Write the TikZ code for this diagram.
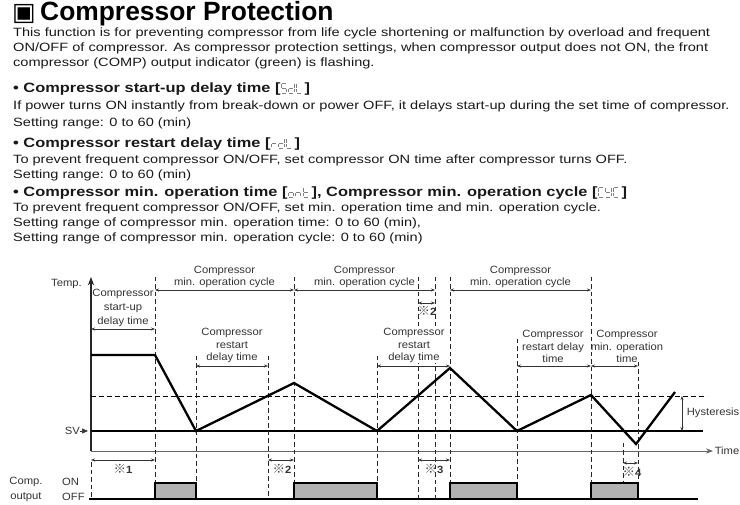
\documentclass[tikz,border=0pt]{standalone}
\usepackage{fontspec}
\setmainfont{Liberation Sans}
\newfontfamily\bodyfont[FakeStretch=1.215]{Liberation Sans}
\newfontfamily\labelfont[FakeStretch=1.07]{Liberation Sans}
\newfontfamily\symfont{DejaVu Sans}
\newfontfamily\cjkfont{Noto Sans CJK JP}
\usetikzlibrary{arrows.meta,positioning}

% seven segment glyphs for the parameter codes
\newcommand{\lcdA}{\draw (0.6,9.5)--(4.6,9.5);}
\newcommand{\lcdB}{\draw (5.2,8.9)--(5.2,5.3);}
\newcommand{\lcdC}{\draw (5.2,4.2)--(5.2,0.6);}
\newcommand{\lcdD}{\draw (0.6,0)--(4.6,0);}
\newcommand{\lcdE}{\draw (0,0.6)--(0,4.2);}
\newcommand{\lcdF}{\draw (0,5.3)--(0,8.9);}
\newcommand{\lcdG}{\draw (0.6,4.75)--(4.6,4.75);}
\newcommand{\lcdglyph}[1]{\tikz[baseline=0pt,x=1pt,y=1pt,line width=0.85pt,black!50]{\path (-0.9,0) rectangle (6.4,9.5);\foreach \s in {#1}{\csname lcd\s\endcsname}}}
\newcommand{\refmark}[1]{{\cjkfont\fontsize{12.5}{13}\selectfont\color{black!70}※}\textbf{#1}}

\begin{document}
\begin{tikzpicture}[x=1pt, y=-1pt, >=Stealth,
  txt/.style={anchor=base west, inner sep=0, text=black!90, font=\bodyfont\fontsize{12}{15}\selectfont},
  hd/.style={txt, font=\bodyfont\fontsize{13.5}{15}\selectfont\bfseries},
  lbl/.style={inner sep=0, align=center, text=black!80, font=\labelfont\fontsize{10.5}{12.5}\selectfont},
  guide/.style={black!85, dash pattern=on 4.5pt off 3pt, line width=0.8pt},
  dimline/.style={{Stealth[length=4pt,width=3pt]}-{Stealth[length=4pt,width=3pt]}, black!80, line width=0.7pt},
  tempcurve/.style={line width=2.3pt, line join=miter},
  onbox/.style={draw, fill=black!30, line width=1.2pt}]
\useasboundingbox (0,0) rectangle (740,505);

% text
\node[anchor=base west, inner sep=0, font=\symfont\fontsize{25}{27}\selectfont] (mark) at (12,20.5) {▣};
\node[anchor=base west, inner sep=0, font=\fontsize{26.4}{30}\selectfont\bfseries] (title) at (40,20.5) {Compressor Protection};
\node[txt] (intro1) at (13,37) {This function is for preventing compressor from life cycle shortening or malfunction by overload and frequent};
\node[txt] (intro2) at (13,52) {ON/OFF of compressor. As compressor protection settings, when compressor output does not ON, the front};
\node[txt] (intro3) at (13,67) {compressor (COMP) output indicator (green) is flashing.};
\node[hd] (sdl) at (13,93) {• Compressor start-up delay time [\lcdglyph{A,F,G,C,D}\lcdglyph{B,C,D,E,G}\lcdglyph{F,E,D}\,]};
\node[txt] (sdl1) at (13,110) {If power turns ON instantly from break-down or power OFF, it delays start-up during the set time of compressor.};
\node[txt] (sdl2) at (13,127) {Setting range: 0 to 60 (min)};
\node[hd] (rdl) at (13,148) {• Compressor restart delay time [\lcdglyph{E,G}\lcdglyph{B,C,D,E,G}\lcdglyph{F,E,D}\,]};
\node[txt] (rdl1) at (13,164) {To prevent frequent compressor ON/OFF, set compressor ON time after compressor turns OFF.};
\node[txt] (rdl2) at (13,179) {Setting range: 0 to 60 (min)};
\node[hd] (ont) at (13,197) {• Compressor min. operation time [\lcdglyph{C,D,E,G}\lcdglyph{C,E,G}\lcdglyph{F,E,D,G}\,], Compressor min. operation cycle [\lcdglyph{A,F,E,D}\lcdglyph{F,B,G,C,D}\lcdglyph{A,F,E,D}\,]};
\node[txt] (ont1) at (13,212) {To prevent frequent compressor ON/OFF, set min. operation time and min. operation cycle.};
\node[txt] (ont2) at (13,227) {Setting range of compressor min. operation time: 0 to 60 (min),};
\node[txt] (ont3) at (13,242) {Setting range of compressor min. operation cycle: 0 to 60 (min)};

% axes
\draw[->, black!85, line width=1.2pt] (91,451) -- (91,277);
\draw[->, black!60, line width=0.9pt] (91,451) -- (713,451);
\node[lbl, anchor=east] (templbl) at (82,284) {Temp.};
\node[lbl, anchor=east] (timelbl) at (739.5,451) {Time};
\node[lbl, anchor=east] (sv) at (80,431) {SV};
\coordinate (svtip) at (88,431);
\draw[-{Triangle[length=6pt,width=5pt]}, black!80, line width=0.6pt] (sv.east) -- (svtip);

% levels
\draw[line width=1.6pt] (91,431) -- (703,431);
\draw[dashed, dash pattern=on 5pt off 3pt, line width=0.9pt] (91,396) -- (707,396);
\draw[dimline] (682,396) -- (682,431);
\node[lbl, anchor=east] (hys) at (739.5,413) {Hysteresis};

% guide lines
\foreach \x/\top in {91/462, 155/277, 196/356, 268/356, 294/277, 377/356, 418/277, 435/277, 450/277, 517/339, 591/277, 623/443, 638/362}
  \draw[guide] (\x,\top) -- (\x,499);

% temperature
\draw[tempcurve] (91,355) -- (155,355) -- (196,431) -- (294,383) -- (377,431) -- (450,368) -- (517,431) -- (591,395) -- (636,444) -- (675,392);

% min. operation cycle
\draw[dimline] (155,290) -- (294,290);
\draw[dimline] (294,290) -- (435,290);
\draw[dimline] (450,290) -- (591,290);
\node[lbl, anchor=south] (cyc1) at (224.5,288) {Compressor\\min. operation cycle};
\node[lbl, anchor=south] (cyc2) at (364.5,288) {Compressor\\min. operation cycle};
\node[lbl, anchor=south] (cyc3) at (520.5,288) {Compressor\\min. operation cycle};
\draw[dimline] (418,303) -- (435,303);
\node[lbl, anchor=north] (n2a) at (427,306) {\refmark{2}};

% start-up and restart delays
\draw[dimline] (91,329) -- (155,329);
\node[lbl, anchor=south, font=\labelfont\fontsize{10.5}{14}\selectfont] (sdt) at (123,327) {Compressor\\start-up\\delay time};
\draw[dimline] (196,366) -- (268,366);
\node[lbl, anchor=south] (rdt1) at (232,363) {Compressor\\restart\\delay time};
\draw[dimline] (377,366) -- (450,366);
\node[lbl, anchor=south, fill=white] (rdt2) at (414,363) {Compressor\\restart\\delay time};
\draw[dimline] (517,366) -- (591,366);
\node[lbl, anchor=south] (rdt3) at (553,363) {Compressor\\restart delay\\time};
\draw[dimline] (591,366) -- (638,366);
\node[lbl, anchor=south] (mot) at (627,363) {Compressor\\min. operation\\time};

% notes
\draw[dimline] (91,460) -- (155,460);
\node[lbl, anchor=north] (n1) at (123,464) {\refmark{1}};
\draw[dimline] (268,460) -- (294,460);
\node[lbl, anchor=north] (n2) at (282,464) {\refmark{2}};
\draw[dimline] (418,460) -- (450,460);
\node[lbl, anchor=north] (n3) at (434,464) {\refmark{3}};
\draw[dimline] (623,463) -- (638,463);
\node[lbl, anchor=north] (n4) at (632,467) {\refmark{4}};

% compressor output
\node[lbl] (comp) at (26,482) {Comp.};
\node[lbl] (outp) at (26,497) {output};
\node[lbl, anchor=west] (onlbl) at (62,482) {ON};
\node[lbl, anchor=west] (offlbl) at (62,497) {OFF};
\foreach \a/\b in {155/196, 294/377, 450/517, 591/638}
  \draw[onbox] (\a,499) rectangle (\b,483);
\draw[line width=1.6pt] (89,499) -- (698,499);
\end{tikzpicture}
\end{document}
